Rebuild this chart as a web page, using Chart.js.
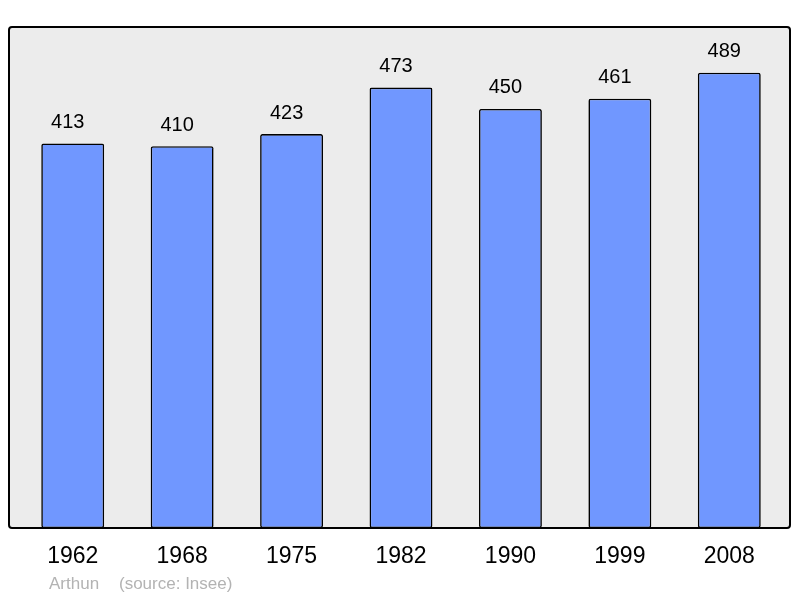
<!DOCTYPE html>
<html>
<head>
<meta charset="utf-8">
<script src="https://cdn.jsdelivr.net/npm/chart.js@4/dist/chart.umd.min.js"></script>
<style>
  html, body { margin: 0; padding: 0; background: #fff; }
  #wrap { width: 800px; height: 598px; }
</style>
</head>
<body>
<div id="wrap"><canvas id="pop" width="800" height="598"></canvas></div>
<script>
// années des recensements
const years = ["1962", "1968", "1975", "1982", "1990", "1999", "2008"];
// population
const population = [413, 410, 423, 473, 450, 461, 489];
const footer = ["Arthun", "(source: Insee)"];

// cadre gris + étiquettes
const decor = {
  id: "decor",
  beforeDraw(chart) {
    const c = chart.ctx;
    c.save();
    c.fillStyle = "#ececec";
    c.beginPath();
    c.roundRect(9, 27, 781, 501, 3);
    c.fill();
    c.restore();
  },
  afterDatasetsDraw(chart) {
    const c = chart.ctx;
    const x = chart.scales.x;
    const y = chart.scales.y;
    c.save();
    // bordure du cadre
    c.strokeStyle = "#000";
    c.lineWidth = 2;
    c.beginPath();
    c.roundRect(9, 27, 781, 501, 3);
    c.stroke();

    c.fillStyle = "#000";
    c.textAlign = "center";
    c.textBaseline = "middle";
    c.font = "20px 'Liberation Sans', Arial, sans-serif";
    population.forEach((v, i) => {
      c.fillText(String(v), x.getPixelForValue(i) - 5, y.getPixelForValue(v) - 21);
    });
    c.font = "23px 'Liberation Sans', Arial, sans-serif";
    years.forEach((yr, i) => {
      c.fillText(yr, x.getPixelForValue(i), 557);
    });
    c.fillStyle = "#b3b3b3";
    c.textAlign = "left";
    c.font = "17px 'Liberation Sans', Arial, sans-serif";
    c.fillText(footer[0], 49, 584);
    c.fillText(footer[1], 119, 584);
    c.restore();
  }
};

const ctx = document.getElementById("pop").getContext("2d");
new Chart(ctx, {
  type: "bar",
  data: {
    labels: years,
    datasets: [{
      data: population,
      backgroundColor: "#7097ff",
      borderColor: "#000",
      borderWidth: 1.6,
      borderSkipped: false,
      borderRadius: 2,
      barPercentage: 0.575,
      categoryPercentage: 1
    }]
  },
  options: {
    responsive: false,
    animation: false,
    layout: { padding: { left: 18, right: 16, top: 27, bottom: 70 } },
    plugins: { legend: { display: false }, tooltip: { enabled: false } },
    scales: {
      x: { display: false },
      y: { display: false, min: 0, max: 538 }
    }
  },
  plugins: [decor]
});
</script>
</body>
</html>
